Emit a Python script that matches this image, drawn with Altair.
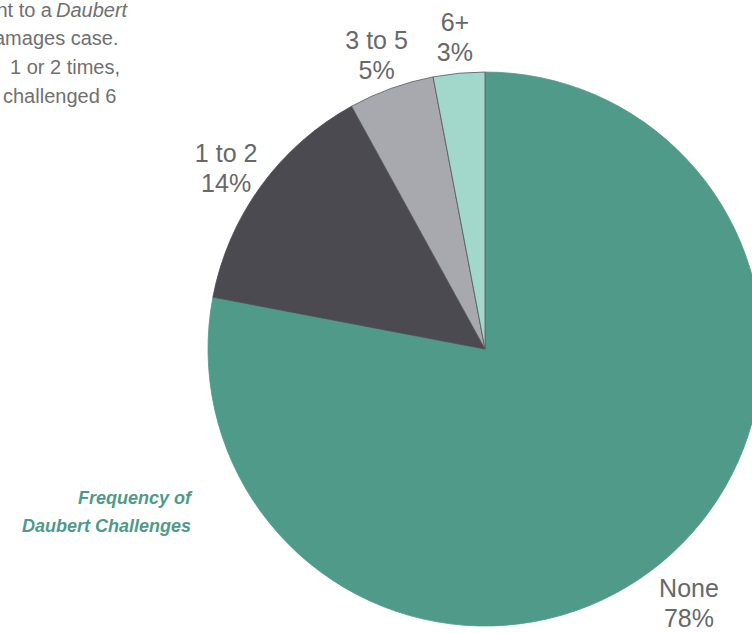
import altair as alt
import pandas as pd

# Frequency of Daubert challenges (share of experts, %)
categories = ["None", "1 to 2", "3 to 5", "6+"]
shares = [78, 14, 5, 3]
slice_colors = ["#4f9a88", "#4b4a50", "#a8a9ae", "#a2d8cc"]
edge_colors = ["#4f9a88", "#4b4a50", "#55565a", "#55565a"]

df = pd.DataFrame({
    "category": categories,
    "share": shares,
    "order": list(range(len(categories))),
    "fill": slice_colors,
    "edge": edge_colors,
    "label": [f"{c}\n{s}%" for c, s in zip(categories, shares)],
})

CX, CY, R = 485, 349, 277
font = "Liberation Sans"

base = alt.Chart(df).encode(
    theta=alt.Theta("share:Q", stack=True),
    order=alt.Order("order:Q"),
)

pie = base.mark_arc(radius=R, strokeWidth=0.8).encode(
    x=alt.value(CX),
    y=alt.value(CY),
    color=alt.Color("fill:N", scale=None),
    stroke=alt.Stroke("edge:N", scale=None),
)

# two-line labels, nudged up so the block (not its first line) sits on the radius
labels = base.mark_text(
    radius=320, dy=-7, fontSize=25, font=font, color="#686868",
    lineBreak="\n", lineHeight=30, align="center", baseline="middle",
).encode(
    x=alt.value(CX),
    y=alt.value(CY),
    text="label:N",
)

# Caption fragment at the top-left edge and the panel title
note_lines = ["amages case.", "1 or 2 times,", "challenged 6"]
note_x = [-6, 10, 3]
note_y = [45, 74, 103]
note_df = pd.DataFrame({"t": note_lines, "x": note_x, "y": note_y})

note = alt.Chart(note_df).mark_text(
    align="left", baseline="alphabetic", fontSize=20, font=font, color="#707070"
).encode(
    x=alt.X("x:Q", scale=None, axis=None),
    y=alt.Y("y:Q", scale=None, axis=None),
    text="t:N",
)

first_a = alt.Chart(pd.DataFrame({"t": ["nt to a"]})).mark_text(
    align="right", baseline="alphabetic", fontSize=20, font=font, color="#707070"
).encode(x=alt.value(52), y=alt.value(17), text="t:N")

first_b = alt.Chart(pd.DataFrame({"t": ["Daubert"]})).mark_text(
    align="left", baseline="alphabetic", fontSize=20, font=font,
    fontStyle="italic", color="#707070"
).encode(x=alt.value(56), y=alt.value(17), text="t:N")

title_df = pd.DataFrame({"t": ["Frequency of", "Daubert Challenges"], "y": [504, 532]})
title = alt.Chart(title_df).mark_text(
    align="right", baseline="alphabetic", fontSize=18, font=font,
    fontStyle="italic", fontWeight="bold", color="#4f9a88"
).encode(x=alt.value(191), y=alt.Y("y:Q", scale=None, axis=None), text="t:N")

chart = alt.layer(pie, labels, note, first_a, first_b, title).properties(
    width=752, height=633, padding=0, background="white",
    autosize=alt.AutoSizeParams(type="none"),
).configure_view(stroke=None)

chart.save("out.html", embed_options={"renderer": "svg", "actions": False})
